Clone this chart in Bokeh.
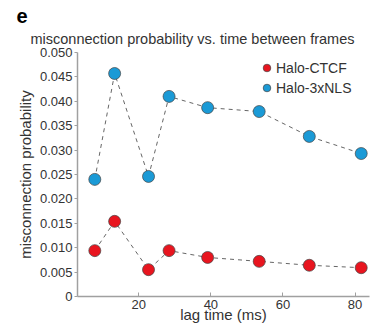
from bokeh.plotting import figure
from bokeh.models import (Range1d, FixedTicker, CustomJSTickFormatter, Legend, LegendItem, Title)
from bokeh.embed import file_html
from bokeh.resources import INLINE

# data
lag_ms = [7.8, 13.3, 22.7, 28.4, 39.1, 53.4, 67.3, 81.7]
ctcf = [0.0094, 0.0154, 0.0055, 0.0094, 0.0080, 0.0072, 0.0064, 0.0059]
nls = [0.0240, 0.0457, 0.0246, 0.0410, 0.0387, 0.0379, 0.0328, 0.0293]
x_ticks = [20, 40, 60, 80]
y_ticks = [0, 0.005, 0.010, 0.015, 0.020, 0.025, 0.030, 0.035, 0.040, 0.045, 0.050]
series_names = ["Halo-CTCF", "Halo-3xNLS"]
title_text = "misconnection probability vs. time between frames"
panel_letter = "e"

FONT = "Liberation Sans"
TXT = "#333333"
RED = "#e8151f"
BLUE = "#1b9ad6"

p = figure(width=380, height=325, output_backend="svg", toolbar_location=None,
           x_range=Range1d(3, 84), y_range=Range1d(0, 0.05),
           min_border_left=77, min_border_right=11, min_border_top=52, min_border_bottom=29)
p.outline_line_color = None
p.grid.visible = False
p.background_fill_color = "white"
p.border_fill_color = "white"

for ax in (p.xaxis[0], p.yaxis[0]):
    ax.axis_line_color = "#a0a0a0"
    ax.axis_line_width = 1.5
    ax.major_tick_line_color = "#a0a0a0"
    ax.minor_tick_line_color = None
    ax.major_label_text_font = FONT
    ax.major_label_text_font_size = "13px"
    ax.major_label_text_color = TXT
    ax.axis_label_text_font = FONT
    ax.axis_label_text_font_style = "normal"
    ax.axis_label_text_font_size = "15px"
    ax.axis_label_text_color = TXT

p.xaxis.ticker = FixedTicker(ticks=x_ticks)
p.xaxis.major_tick_in = 4
p.xaxis.major_tick_out = 0
p.xaxis.major_label_standoff = 3
p.xaxis.axis_label = "lag time (ms)"
p.xaxis.axis_label_standoff = -6

p.yaxis.ticker = FixedTicker(ticks=y_ticks)
p.yaxis.formatter = CustomJSTickFormatter(code="return tick == 0 ? '0' : tick.toFixed(3);")
p.yaxis.major_tick_in = 0
p.yaxis.major_tick_out = 3
p.yaxis.major_label_standoff = 2
p.yaxis.axis_label = "misconnection probability"
p.yaxis.axis_label_standoff = 3

p.line(lag_ms, nls, line_color="#666666", line_dash="4 4", line_width=1)
p.line(lag_ms, ctcf, line_color="#666666", line_dash="4 4", line_width=1)
r_red = p.scatter(lag_ms, ctcf, size=12, fill_color=RED, line_color="#444444", line_width=0.7)
r_blue = p.scatter(lag_ms, nls, size=12, fill_color=BLUE, line_color="#444444", line_width=0.7)

legend = Legend(items=[LegendItem(label=series_names[0], renderers=[r_red]),
                       LegendItem(label=series_names[1], renderers=[r_blue])],
                location=(180, 199), margin=0, padding=0, spacing=1,
                glyph_width=19, glyph_height=19, label_standoff=0,
                label_text_font=FONT, label_text_font_size="14px", label_text_color=TXT,
                border_line_color=None, background_fill_alpha=0)
p.add_layout(legend, "center")

p.add_layout(Title(text=title_text, align="left", offset=-47, standoff=12,
                   text_font=FONT, text_font_size="14.5px", text_font_style="normal",
                   text_color=TXT), "above")
p.add_layout(Title(text=panel_letter, align="left", offset=-61, standoff=0,
                   text_font=FONT, text_font_size="20px", text_font_style="bold",
                   text_color="#000000"), "above")

open("out.html", "w").write(file_html(p, INLINE))
